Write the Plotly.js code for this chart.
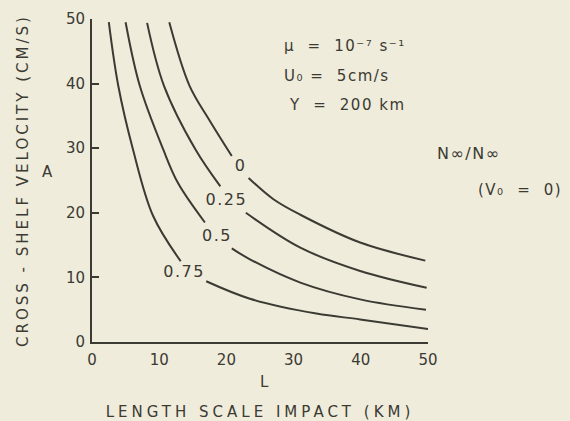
<!DOCTYPE html>
<html>
<head>
<meta charset="utf-8">
<script src="https://cdn.plot.ly/plotly-3.0.1.min.js"></script>
<style>
  html, body { margin: 0; padding: 0; background: #efecdb; }
  #chart { width: 570px; height: 421px; }
  .annotation-text, .textpoint text { letter-spacing: 1.5px; }
  .g-ytitle text { letter-spacing: 3px; }
  .g-xtitle text { letter-spacing: 4px; }
</style>
</head>
<body>
<div id="chart"></div>
<script>
// Curves of N∞/N∞(V0=0); null marks the gap where the curve label sits
const curve0_L   = [11.5, 14.5, 17.5, 20.8, null, 23.3, 27.0, 31.0, 39.9, 49.6];
const curve0_A   = [49.5, 39.7, 34.3, 28.8, null, 25.4, 22.1, 19.7, 15.4, 12.6];
const curve025_L = [8.2, 10.7, 15.4, 19.1, null, 22.9, 31.0, 39.9, 49.8];
const curve025_A = [49.4, 39.7, 29.8, 24.1, null, 20.0, 14.6, 11.0, 8.4];
const curve05_L  = [5.0, 7.1, 10.6, 12.8, 16.8, null, 20.8, 23.5, 31.0, 39.9, 49.7];
const curve05_A  = [49.5, 39.7, 29.8, 24.6, 18.5, null, 14.5, 12.8, 9.2, 6.6, 5.0];
const curve075_L = [2.5, 3.9, 6.1, 9.1, 13.2, null, 17.0, 23.5, 33.4, 39.9, 50.2];
const curve075_A = [49.5, 39.7, 29.8, 19.5, 12.5, null, 9.4, 6.7, 4.4, 3.5, 2.0];

const curveLabels = ['0', '0.25', '0.5', '0.75'];
const curveLabelL = [22.1, 20.0, 18.6, 13.7];
const curveLabelA = [27.1, 21.8, 16.3, 10.7];

const xTickVals = [0, 10, 20, 30, 40, 50];
const yTickVals = [0, 10, 20, 30, 40, 50];

const ink = '#3b3a33';
const bg = '#efecdb';
const fontFam = 'DejaVu Sans, sans-serif';

function curve(L, A) {
  return {
    x: L, y: A, type: 'scatter', mode: 'lines', connectgaps: false,
    line: { color: ink, width: 2, shape: 'spline', smoothing: 1 },
    hoverinfo: 'skip', showlegend: false, cliponaxis: false
  };
}

const data = [
  curve(curve0_L, curve0_A),
  curve(curve025_L, curve025_A),
  curve(curve05_L, curve05_A),
  curve(curve075_L, curve075_A),
  {
    x: curveLabelL, y: curveLabelA, text: curveLabels, type: 'scatter', mode: 'text',
    textposition: 'middle center', textfont: { family: fontFam, size: 16, color: ink },
    showlegend: false, hoverinfo: 'skip', cliponaxis: false
  }
];

const annFont = { family: fontFam, size: 15, color: ink };
const layout = {
  width: 570, height: 421,
  margin: { l: 92, r: 142, t: 19, b: 79 },
  paper_bgcolor: bg, plot_bgcolor: bg,
  showlegend: false,
  xaxis: {
    range: [0, 50], tickvals: xTickVals, ticks: '', showgrid: false, zeroline: false,
    showline: true, linecolor: ink, linewidth: 2, ticklabelstandoff: 3,
    tickfont: { family: fontFam, size: 15, color: ink },
    title: { text: 'LENGTH SCALE IMPACT (KM)', font: { family: fontFam, size: 15, color: ink }, standoff: 38 }
  },
  yaxis: {
    range: [0, 50], tickvals: yTickVals, ticks: 'inside', ticklen: 7, tickwidth: 2, tickcolor: ink,
    showgrid: false, zeroline: false, showline: true, linecolor: ink, linewidth: 2,
    ticklabelstandoff: 2,
    tickfont: { family: fontFam, size: 15, color: ink },
    title: { text: 'CROSS - SHELF VELOCITY (CM/S)', font: { family: fontFam, size: 15, color: ink }, standoff: 34 }
  },
  annotations: [
    { xref: 'paper', yref: 'paper', x: 0.565, y: 0.916, xanchor: 'left', yanchor: 'middle', showarrow: false,
      text: 'μ  =  10⁻⁷ s⁻¹', font: annFont },
    { xref: 'paper', yref: 'paper', x: 0.565, y: 0.822, xanchor: 'left', yanchor: 'middle', showarrow: false,
      text: 'U₀ =  5cm/s', font: annFont },
    { xref: 'paper', yref: 'paper', x: 0.58, y: 0.734, xanchor: 'left', yanchor: 'middle', showarrow: false,
      text: 'Y  =  200 km', font: annFont },
    { xref: 'paper', yref: 'paper', x: 1.02, y: 0.585, xanchor: 'left', yanchor: 'middle', showarrow: false,
      text: 'N∞/N∞', font: { family: fontFam, size: 16, color: ink } },
    { xref: 'paper', yref: 'paper', x: 1.142, y: 0.472, xanchor: 'left', yanchor: 'middle', showarrow: false,
      text: '(V₀  =  0)', font: annFont },
    { xref: 'paper', yref: 'paper', x: -0.131, y: 0.525, xanchor: 'center', yanchor: 'middle', showarrow: false,
      text: 'A', font: annFont },
    { xref: 'paper', yref: 'paper', x: 0.515, y: -0.125, xanchor: 'center', yanchor: 'middle', showarrow: false,
      text: 'L', font: annFont }
  ]
};

Plotly.newPlot('chart', data, layout, { staticPlot: true, displayModeBar: false });
</script>
</body>
</html>
